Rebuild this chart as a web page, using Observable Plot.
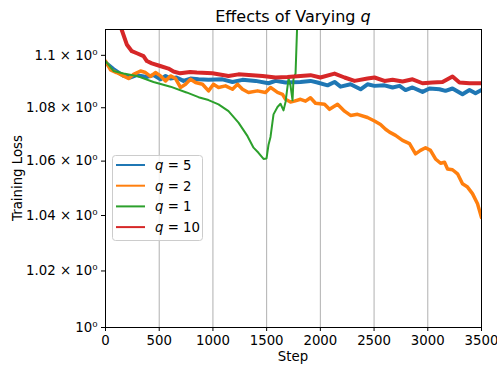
<!DOCTYPE html>
<html><head><meta charset="utf-8">
<script src="https://cdn.jsdelivr.net/npm/d3@7"></script>
<script src="https://cdn.jsdelivr.net/npm/@observablehq/plot@0.6"></script>
<style>body{margin:0;background:#fff}#chart{width:497px;height:366px}</style>
</head><body><div id="chart"></div>
<script>
// ---- data ----
const seriesNames = ["5", "2", "1", "10"];
const seriesColors = ["#1f77b4", "#ff7f0e", "#2ca02c", "#d62728"];
const xTicks = [0, 500, 1000, 1500, 2000, 2500, 3000, 3500];
const yTicks = [1, 1.02, 1.04, 1.06, 1.08, 1.1];

const stepsQ5 = [0,74,168,233,289,382,447,512,559,605,661,726,791,866,959,1089,1182,1275,1396,1517,1583,1676,1815,1908,1973,2067,2132,2188,2281,2374,2439,2504,2597,2672,2737,2793,2858,2951,3016,3109,3165,3230,3323,3388,3444,3500];
const lossQ5 = [1.0972,1.0947,1.0921,1.0915,1.0924,1.0917,1.0924,1.0908,1.0921,1.0911,1.0915,1.0902,1.0911,1.0908,1.0906,1.0908,1.0898,1.0906,1.0902,1.0893,1.0902,1.0896,1.0898,1.0902,1.0896,1.0885,1.0898,1.0880,1.0889,1.0870,1.0889,1.0883,1.0885,1.0877,1.0883,1.0867,1.0877,1.0860,1.0873,1.0870,1.0864,1.0873,1.0851,1.0867,1.0855,1.0867];

const stepsQ2 = [0,47,102,168,214,261,326,372,419,465,512,559,605,652,698,745,791,838,903,959,1005,1052,1117,1182,1229,1275,1331,1415,1489,1536,1601,1648,1676,1722,1759,1815,1862,1908,1955,2039,2085,2160,2225,2281,2346,2439,2504,2560,2607,2644,2700,2765,2830,2886,2932,2979,3025,3072,3119,3156,3184,3230,3277,3323,3370,3416,3463,3500];
const lossQ2 = [1.0978,1.0944,1.0934,1.0921,1.0911,1.0927,1.0940,1.0934,1.0919,1.0934,1.0921,1.0902,1.0921,1.0911,1.0877,1.0889,1.0908,1.0896,1.0889,1.0864,1.0889,1.0877,1.0883,1.0870,1.0889,1.0870,1.0858,1.0864,1.0858,1.0877,1.0858,1.0851,1.0832,1.0822,1.0825,1.0832,1.0825,1.0838,1.0817,1.0813,1.0794,1.0813,1.0787,1.0771,1.0775,1.0763,1.0750,1.0737,1.0719,1.0708,1.0696,1.0677,1.0665,1.0627,1.0640,1.0650,1.0640,1.0608,1.0592,1.0596,1.0571,1.0568,1.0553,1.0516,1.0504,1.0480,1.0443,1.0393];

const stepsQ1 = [0,74,168,289,447,605,754,866,959,1052,1145,1238,1322,1378,1424,1471,1499,1517,1536,1564,1601,1629,1657,1676,1694,1704,1722,1741,1750,1769,1787];
const lossQ1 = [1.0978,1.0940,1.0930,1.0921,1.0898,1.0880,1.0858,1.0840,1.0829,1.0813,1.0787,1.0744,1.0693,1.0650,1.0631,1.0608,1.0610,1.0660,1.0690,1.0775,1.0803,1.0815,1.0790,1.0822,1.0879,1.0911,1.0885,1.0828,1.0911,1.0930,1.1150];

const stepsQ10 = [130,150,198,245,292,354,385,431,509,586,633,695,788,850,996,1145,1238,1462,1583,1694,1815,1908,2001,2132,2225,2318,2439,2504,2597,2672,2765,2858,2951,3044,3137,3230,3295,3388,3500];
const lossQ10 = [1.1120,1.1100,1.1042,1.1016,1.1008,1.0997,1.0978,1.0969,1.0959,1.0949,1.0938,1.0931,1.0936,1.0934,1.0931,1.0921,1.0927,1.0921,1.0915,1.0917,1.0921,1.0924,1.0915,1.0930,1.0915,1.0902,1.0911,1.0915,1.0902,1.0906,1.0900,1.0908,1.0893,1.0896,1.0898,1.0919,1.0896,1.0893,1.0893];

const allSteps = [stepsQ5, stepsQ2, stepsQ1, stepsQ10];
const allLoss = [lossQ5, lossQ2, lossQ1, lossQ10];
const widths = [4, 3.5, 2, 4];

const rows = s => allSteps[s].map((x, i) => ({step: x, loss: allLoss[s][i]}));

const W = 497, H = 366;
const chart = Plot.plot({
  width: W, height: H,
  marginLeft: 105, marginRight: 16, marginTop: 29, marginBottom: 39,
  style: {fontFamily: "DejaVu Sans", fontSize: "13.3px", color: "black", background: "white"},
  x: {domain: [0, 3500], ticks: xTicks, tickFormat: d => String(d), tickSize: 4, tickPadding: 4, label: null},
  y: {type: "log", domain: [1, 1.11], ticks: yTicks, tickFormat: d => d === 1 ? "10⁰" : `${d} × 10⁰`, tickSize: 4, tickPadding: 4, label: null},
  marks: [
    Plot.ruleX(xTicks.slice(1, -1), {stroke: "#b0b0b0", strokeWidth: 1}),
    ...seriesNames.map((n, s) => Plot.line(rows(s), {x: "step", y: "loss", stroke: seriesColors[s], strokeWidth: widths[s], strokeLinejoin: "round", clip: true})),
    Plot.frame({stroke: "black", strokeWidth: 1})
  ]
});
document.getElementById("chart").appendChild(chart);

const svg = d3.select(chart);
const font = "DejaVu Sans";
// title
const t = svg.append("text").attr("x", 293).attr("y", 22).attr("text-anchor", "middle")
  .attr("font-family", font).attr("font-size", 16).attr("fill", "black");
t.append("tspan").text("Effects of Varying ");
t.append("tspan").attr("font-style", "italic").text("q");
// axis labels
svg.append("text").attr("x", 293).attr("y", 361).attr("text-anchor", "middle")
  .attr("font-family", font).attr("font-size", 13.3).attr("fill", "black").text("Step");
svg.append("text").attr("transform", "translate(22,178) rotate(-90)").attr("text-anchor", "middle")
  .attr("font-family", font).attr("font-size", 13.3).attr("fill", "black").text("Training Loss");
// legend
const lg = svg.append("g");
lg.append("rect").attr("x", 112.5).attr("y", 155.5).attr("width", 90).attr("height", 85).attr("rx", 3)
  .attr("fill", "white").attr("fill-opacity", 0.8).attr("stroke", "#cccccc").attr("stroke-width", 1);
seriesNames.forEach((n, i) => {
  const y = 165 + i * 20.7;
  lg.append("line").attr("x1", 116).attr("x2", 145).attr("y1", y).attr("y2", y)
    .attr("stroke", seriesColors[i]).attr("stroke-width", 2);
  const tx = lg.append("text").attr("x", 155).attr("y", y + 4.8).attr("text-anchor", "start")
    .attr("font-family", font).attr("font-size", 13.3).attr("fill", "black");
  tx.append("tspan").attr("font-style", "italic").text("q");
  tx.append("tspan").text(" = " + n);
});
</script></body></html>
